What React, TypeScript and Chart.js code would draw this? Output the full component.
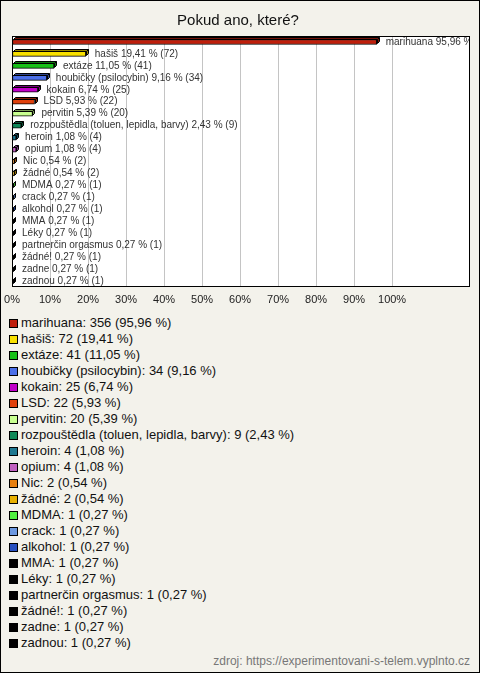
import React, { useEffect, useRef } from 'react';
import { Chart, registerables } from 'chart.js';

Chart.register(...registerables);

const title = 'Pokud ano, které?';
const source = 'zdroj: https://experimentovani-s-telem.vyplnto.cz';

const categories = [
  'marihuana', 'hašiš', 'extáze', 'houbičky (psilocybin)', 'kokain', 'LSD', 'pervitin',
  'rozpouštědla (toluen, lepidla, barvy)', 'heroin', 'opium', 'Nic', 'žádné', 'MDMA', 'crack',
  'alkohol', 'MMA', 'Léky', 'partnerčin orgasmus', 'žádné!', 'zadne', 'zadnou',
];
const counts = [356, 72, 41, 34, 25, 22, 20, 9, 4, 4, 2, 2, 1, 1, 1, 1, 1, 1, 1, 1, 1];
const percents = [95.96, 19.41, 11.05, 9.16, 6.74, 5.93, 5.39, 2.43, 1.08, 1.08, 0.54, 0.54,
  0.27, 0.27, 0.27, 0.27, 0.27, 0.27, 0.27, 0.27, 0.27];
const colors = [
  '#bf1e0b', '#f8e000', '#18c018', '#4b6fe8', '#c000c8', '#e0400c', '#c8ff90',
  '#108858', '#1f7890', '#c060c0', '#e88010', '#e8b000', '#50f040', '#6c98e0',
  '#2850c0', '#000000', '#000000', '#000000', '#000000', '#000000', '#000000',
];
const xTicks = [0, 10, 20, 30, 40, 50, 60, 70, 80, 90, 100];
const xMax = 120.5;

const FONT = "Arial, 'Liberation Sans', sans-serif";

const fmt = (v: number) => v.toFixed(2).replace('.', ',');

function darken(hex: string, f: number) {
  const n = parseInt(hex.slice(1), 16);
  const r = Math.round(((n >> 16) & 255) * f);
  const g = Math.round(((n >> 8) & 255) * f);
  const b = Math.round((n & 255) * f);
  return `rgb(${r},${g},${b})`;
}

const framePlugin = {
  id: 'frame',
  beforeDraw(chart: any) {
    const { ctx, chartArea: a } = chart;
    ctx.save();
    ctx.fillStyle = '#ffffff';
    ctx.fillRect(a.left, a.top, a.right - a.left, a.bottom - a.top);
    ctx.restore();
  },
  afterDatasetsDraw(chart: any) {
    const { ctx, chartArea: a } = chart;
    const meta = chart.getDatasetMeta(0);
    const d = 2;
    ctx.save();
    ctx.beginPath();
    ctx.rect(a.left, a.top, a.right - a.left, a.bottom - a.top);
    ctx.clip();
    ctx.lineWidth = 1;
    ctx.strokeStyle = '#000';
    meta.data.forEach((el: any, i: number) => {
      const p = el.getProps(['x', 'y', 'base', 'height'], true);
      const left = Math.round(p.base) + 0.5;
      const right = Math.round(p.x) + 0.5;
      const top = Math.round(p.y - p.height / 2) + 0.5;
      const bottom = Math.round(p.y + p.height / 2) - 0.5;
      ctx.fillStyle = darken(colors[i], 0.6);
      ctx.beginPath();
      ctx.moveTo(left, top);
      ctx.lineTo(left + d, top - d);
      ctx.lineTo(right + d, top - d);
      ctx.lineTo(right + d, bottom - d);
      ctx.lineTo(right, bottom);
      ctx.lineTo(right, top);
      ctx.closePath();
      ctx.fill();
      ctx.stroke();
      ctx.beginPath();
      ctx.moveTo(right, top);
      ctx.lineTo(right + d, top - d);
      ctx.stroke();
      ctx.fillStyle = '#333';
      ctx.font = `10px ${FONT}`;
      ctx.textBaseline = 'middle';
      ctx.textAlign = 'left';
      ctx.fillText(`${categories[i]} ${fmt(percents[i])} % (${counts[i]})`, p.x + 9, p.y);
    });
    ctx.restore();
    ctx.save();
    ctx.strokeStyle = '#000';
    ctx.lineWidth = 1;
    ctx.strokeRect(Math.round(a.left) + 0.5, Math.round(a.top) + 0.5,
      Math.round(a.right - a.left) - 1, Math.round(a.bottom - a.top) - 1);
    ctx.restore();
  },
};

export default function App() {
  const ref = useRef<HTMLCanvasElement>(null);

  useEffect(() => {
    document.body.style.margin = '0';
    const chart = new Chart(ref.current as HTMLCanvasElement, {
      type: 'bar',
      data: {
        labels: categories,
        datasets: [{
          data: percents,
          backgroundColor: colors,
          borderColor: '#000',
          borderWidth: 1,
          borderSkipped: false,
          barThickness: 5,
        }],
      },
      options: {
        indexAxis: 'y',
        animation: false,
        responsive: false,
        maintainAspectRatio: false,
        layout: { padding: { left: 12, right: 10, top: 36, bottom: 0 } },
        plugins: { legend: { display: false }, tooltip: { enabled: false } },
        scales: {
          y: { display: false, offset: true },
          x: {
            min: 0,
            max: xMax,
            afterBuildTicks(scale: any) {
              scale.ticks = xTicks.map((v) => ({ value: v }));
            },
            afterFit(scale: any) {
              scale.height = 25;
              scale.paddingLeft = 0;
              scale.paddingRight = 0;
              scale.paddingTop = 0;
              scale.paddingBottom = 0;
            },
            border: { display: false },
            grid: {
              drawTicks: false,
              color: (c: any) => (c.tick && c.tick.value > 0 && c.tick.value <= 100 ? '#c4c4c4' : 'transparent'),
              lineWidth: 1,
            },
            ticks: {
              autoSkip: false,
              padding: 6,
              color: '#222',
              font: { family: FONT, size: 11 },
              callback: (v: any) => `${v}%`,
            },
          },
        },
      },
      plugins: [framePlugin],
    });
    return () => chart.destroy();
  }, []);

  return (
    <div style={{
      position: 'fixed', left: 0, top: 0, width: 480, height: 673, boxSizing: 'border-box',
      border: '1px solid #000', background: '#f3f2eb', fontFamily: FONT, overflow: 'hidden',
    }}>
      <canvas ref={ref} width={480} height={312}
        style={{ position: 'absolute', left: -1, top: -1, width: 480, height: 312 }} />
      <div style={{
        position: 'absolute', left: 0, top: 10, width: 474, textAlign: 'center',
        fontSize: 15, lineHeight: '18px', color: '#111',
      }}>{title}</div>
      <div style={{ position: 'absolute', left: 8, top: 314 }}>
        {categories.map((c, i) => (
          <div key={c + i} style={{ display: 'flex', alignItems: 'center', height: 16, whiteSpace: 'nowrap' }}>
            <span style={{
              display: 'inline-block', width: 9, height: 9, boxSizing: 'border-box',
              border: '1px solid #000', background: colors[i], marginRight: 3,
            }} />
            <span style={{ fontSize: 13, lineHeight: '16px', color: '#111' }}>
              {`${c}: ${counts[i]} (${fmt(percents[i])} %)`}
            </span>
          </div>
        ))}
      </div>
      <div style={{
        position: 'absolute', right: 9, top: 653, fontSize: 12, lineHeight: '14px', color: '#777',
        whiteSpace: 'nowrap',
      }}>{source}</div>
    </div>
  );
}
